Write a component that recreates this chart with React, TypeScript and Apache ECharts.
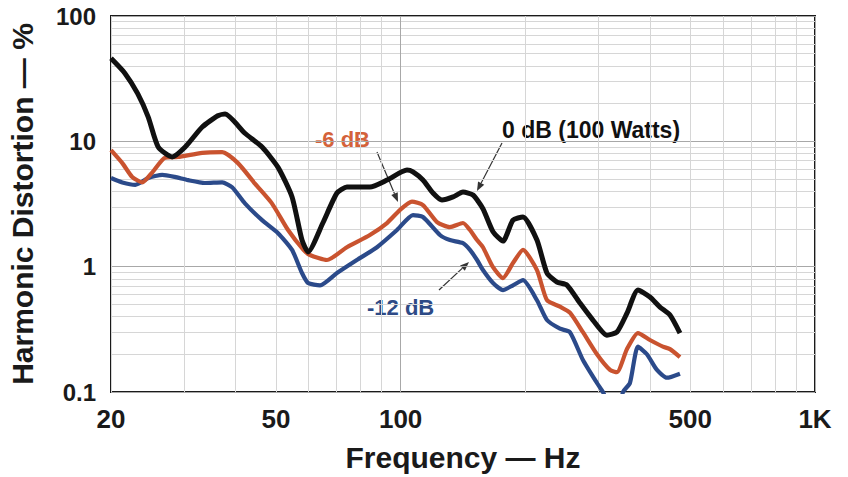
import React, { useEffect, useRef } from 'react';
import * as echarts from 'echarts';

// 0 dB (100 Watts)
const freq0dB = [20, 21.6, 23.2, 24.6, 26, 28.1, 30.2, 33.2, 36.2, 37.7, 42.1, 46.3, 50.6, 54.7, 57.8, 59.8, 64.9, 70.2, 74.2, 84.3, 92.7, 103.6, 107.1, 113.2, 119.7, 125.8, 133.8, 141.4, 149.5, 158, 167.1, 176.6, 186.7, 197.4, 213.3, 225.5, 238.4, 252, 270.9, 291.1, 314.7, 332.7, 351.8, 373.9, 399.6, 422.5, 446.7, 472.2];
const thd0dB = [46, 35, 24, 15.6, 9.0, 7.5, 9.0, 13.0, 16.0, 16.5, 11.6, 9.0, 6.2, 3.6, 1.63, 1.31, 2.23, 3.87, 4.32, 4.32, 4.91, 5.9, 5.7, 4.91, 3.87, 3.4, 3.6, 3.94, 3.73, 2.9, 1.9, 1.6, 2.35, 2.49, 1.63, 0.89, 0.754, 0.713, 0.512, 0.375, 0.284, 0.301, 0.426, 0.651, 0.572, 0.476, 0.411, 0.295];

// -6 dB
const freq6dB = [20, 21.3, 22.5, 23.8, 25.1, 27, 29, 33.2, 37.1, 40.5, 44.5, 48.9, 53.5, 58.3, 60.4, 66.4, 74.2, 84.3, 92.7, 99.6, 106.5, 113.2, 122.4, 131.5, 141.4, 147, 152.9, 158, 167.1, 176.6, 186.7, 197.4, 213.3, 225.5, 242.4, 256.2, 275.4, 297.7, 320.1, 332.7, 351.8, 373.9, 399.6, 429.5, 446.7, 472.2];
const thd6dB = [8.5, 6.7, 5.2, 4.7, 5.6, 7.4, 7.5, 8.1, 8.2, 6.7, 4.6, 3.2, 1.96, 1.36, 1.24, 1.13, 1.43, 1.79, 2.23, 2.83, 3.3, 3.1, 2.27, 2.07, 2.23, 1.96, 1.63, 1.43, 0.99, 0.81, 1.07, 1.36, 0.94, 0.54, 0.48, 0.43, 0.3, 0.2, 0.15, 0.144, 0.22, 0.295, 0.26, 0.23, 0.22, 0.19];

// -12 dB
const freq12dB = [20, 21.3, 22.9, 24.6, 26.6, 28.5, 30.7, 33.7, 37.1, 39.2, 42.1, 46.3, 50.6, 54.7, 57.8, 59.8, 63.9, 70.2, 78.4, 87.7, 98, 107.1, 113.2, 124.4, 131.5, 141.4, 147, 152.9, 158, 167.1, 176.6, 186.7, 197.4, 213.3, 225.5, 242.4, 256.2, 275.4, 297.7, 307.8, 322, 338, 344, 357.6, 373.9, 393, 415.5, 439.2, 472.2];
const thd12dB = [5.1, 4.7, 4.5, 5.1, 5.4, 5.2, 4.9, 4.65, 4.7, 4.3, 3.2, 2.35, 1.85, 1.36, 0.89, 0.74, 0.71, 0.89, 1.13, 1.43, 1.96, 2.58, 2.49, 1.79, 1.63, 1.54, 1.36, 1.13, 0.94, 0.74, 0.65, 0.71, 0.78, 0.54, 0.375, 0.32, 0.3, 0.18, 0.118, 0.1, 0.075, 0.075, 0.1, 0.118, 0.23, 0.2, 0.15, 0.13, 0.14];

const xGridValues = [20, 30, 40, 50, 60, 70, 80, 90, 100, 200, 300, 400, 500, 600, 700, 800, 900, 1000];
const yGridValues = [0.1, 0.2, 0.3, 0.4, 0.5, 0.6, 0.7, 0.8, 0.9, 1, 2, 3, 4, 5, 6, 7, 8, 9, 10, 20, 30, 40, 50, 60, 70, 80, 90, 100];
const xTickLabels = [20, 50, 100, 500, 1000];
const yTickLabels = [0.1, 1, 10, 100];

const FONT = '"Liberation Sans", Arial, Helvetica, sans-serif';

const zip = (xs: number[], ys: number[]) => xs.map((x, i) => [x, ys[i]]);

function arrow(x1: number, y1: number, x2: number, y2: number) {
  const dx = x2 - x1;
  const dy = y2 - y1;
  const len = Math.sqrt(dx * dx + dy * dy);
  const ux = dx / len;
  const uy = dy / len;
  const hl = 9;
  const hw = 3.5;
  const bx = x2 - ux * hl;
  const by = y2 - uy * hl;
  return [
    { type: 'line', shape: { x1, y1, x2: bx, y2: by }, style: { stroke: '#333', lineWidth: 1.2 }, silent: true },
    {
      type: 'polygon',
      shape: { points: [[x2, y2], [bx - uy * hw, by + ux * hw], [bx + uy * hw, by - ux * hw]] },
      style: { fill: '#333' },
      silent: true,
    },
  ];
}

export default function App() {
  const ref = useRef<HTMLDivElement>(null);
  useEffect(() => {
    document.body.style.margin = '0';
    const chart = echarts.init(ref.current!, null, { renderer: 'svg' });
    const option: any = {
      animation: false,
      backgroundColor: '#ffffff',
      grid: {
        left: 111,
        top: 16,
        right: 33,
        bottom: 85,
        show: true,
        borderColor: '#1a1a1a',
        borderWidth: 2,
        containLabel: false,
        outerBoundsMode: 'none',
      },
      xAxis: {
        type: 'log',
        logBase: 10,
        min: 20,
        max: 1000,
        name: 'Frequency — Hz',
        nameLocation: 'middle',
        nameGap: 50,
        nameTextStyle: { fontFamily: FONT, fontWeight: 'bold', fontSize: 30, color: '#1a1a1a' },
        axisLine: { show: false },
        axisTick: { show: false, customValues: xGridValues },
        axisLabel: {
          customValues: xTickLabels,
          formatter: (v: number) => (v >= 1000 ? '1K' : String(v)),
          fontFamily: FONT,
          fontWeight: 'bold',
          fontSize: 26,
          color: '#1a1a1a',
          margin: 14,
        },
        splitLine: {
          show: true,
          lineStyle: {
            color: ['#d6d6d6', '#d6d6d6', '#d6d6d6', '#d6d6d6', '#d6d6d6', '#d6d6d6', '#d6d6d6', '#d6d6d6', '#a8a8a8'],
            width: 1,
          },
        },
      },
      yAxis: {
        type: 'log',
        logBase: 10,
        min: 0.1,
        max: 100,
        name: 'Harmonic Distortion — %',
        nameLocation: 'middle',
        nameGap: 74,
        nameTextStyle: { fontFamily: FONT, fontWeight: 'bold', fontSize: 30, color: '#1a1a1a' },
        axisLine: { show: false },
        axisTick: { show: false, customValues: yGridValues },
        axisLabel: {
          customValues: yTickLabels,
          formatter: (v: number) => String(v),
          fontFamily: FONT,
          fontWeight: 'bold',
          fontSize: 24,
          color: '#1a1a1a',
          margin: 15,
        },
        splitLine: {
          show: true,
          lineStyle: {
            color: ['#a8a8a8', '#d6d6d6', '#d6d6d6', '#d6d6d6', '#d6d6d6', '#d6d6d6', '#d6d6d6', '#d6d6d6', '#d6d6d6'],
            width: 1,
          },
        },
      },
      series: [
        {
          name: '-12 dB',
          type: 'line',
          data: zip(freq12dB, thd12dB),
          showSymbol: false,
          symbol: 'none',
          smooth: 0.2,
          clip: true,
          lineStyle: { color: '#2b4a8a', width: 4.2 },
        },
        {
          name: '-6 dB',
          type: 'line',
          data: zip(freq6dB, thd6dB),
          showSymbol: false,
          symbol: 'none',
          smooth: 0.2,
          clip: true,
          lineStyle: { color: '#c9532f', width: 4.2 },
        },
        {
          name: '0 dB (100 Watts)',
          type: 'line',
          data: zip(freq0dB, thd0dB),
          showSymbol: false,
          symbol: 'none',
          smooth: 0.2,
          clip: true,
          lineStyle: { color: '#111111', width: 5 },
        },
      ],
      graphic: [
        {
          type: 'text',
          x: 315,
          y: 139,
          silent: true,
          style: { text: '-6 dB', fill: '#d4623a', font: `bold 22px ${FONT}`, verticalAlign: 'middle', align: 'left' },
        },
        {
          type: 'text',
          x: 502,
          y: 130,
          silent: true,
          style: { text: '0 dB (100 Watts)', fill: '#111111', font: `bold 23px ${FONT}`, verticalAlign: 'middle', align: 'left' },
        },
        {
          type: 'text',
          x: 367,
          y: 307,
          silent: true,
          style: { text: '-12 dB', fill: '#2d4a86', font: `bold 22px ${FONT}`, verticalAlign: 'middle', align: 'left' },
        },
        ...arrow(377, 152, 398, 202),
        ...arrow(502, 143, 477, 191),
        ...arrow(439, 290, 469, 262),
      ],
    };
    chart.setOption(option);
    return () => chart.dispose();
  }, []);
  return <div ref={ref} style={{ width: 848, height: 477 }} />;
}
